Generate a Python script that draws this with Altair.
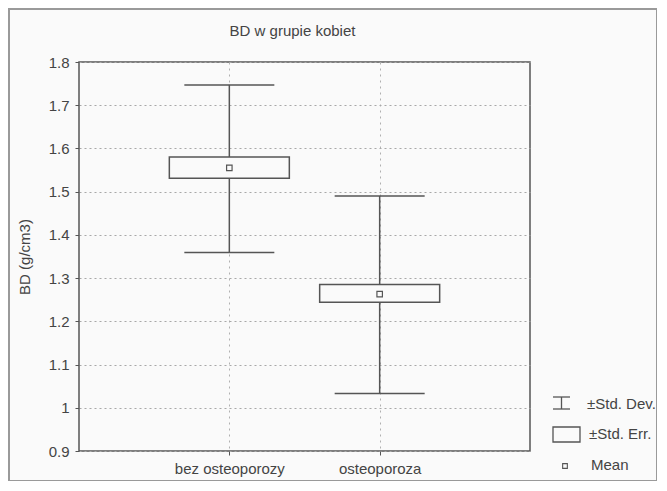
import altair as alt
import pandas as pd

# ---- data ----
groups = ["bez osteoporozy", "osteoporoza"]
means = [1.555, 1.263]
se_low = [1.531, 1.244]
se_high = [1.580, 1.285]
sd_low = [1.359, 1.033]
sd_high = [1.747, 1.490]
y_ticks = [0.9, 1.0, 1.1, 1.2, 1.3, 1.4, 1.5, 1.6, 1.7, 1.8]
legend_labels = ["±Std. Dev.", "±Std. Err.", "Mean"]
title_text = "BD w grupie kobiet"

df = pd.DataFrame({
    "group": groups, "mean": means,
    "se_low": se_low, "se_high": se_high,
    "sd_low": sd_low, "sd_high": sd_high,
})

FONT = "Liberation Sans"
TEXT = "#444444"
LINE = "#555555"
BG = "#fafafa"
W, H = 451, 389

x_enc = alt.X(
    "group:N",
    scale=alt.Scale(type="point", padding=1, domain=groups),
    axis=alt.Axis(title=None, labelAngle=0, grid=True, gridDash=[2, 4],
                  gridColor="#b0b0b0", tickSize=4, tickColor=LINE,
                  labelPadding=6, domain=False),
)
y_scale = alt.Scale(domain=[0.9, 1.8], nice=False, zero=False)
y_axis = alt.Axis(title="BD (g/cm3)", values=y_ticks, format=".1~f",
                  grid=True, gridDash=[2, 3], gridColor="#a8a8a8",
                  tickSize=4, tickColor=LINE, labelPadding=6, domain=False,
                  titleX=-55, titleY=H / 2, titleBaseline="middle",
                  titleAlign="center")

base = alt.Chart(df)

whisker = base.mark_rule(color=LINE, strokeWidth=1.5).encode(
    x=x_enc,
    y=alt.Y("sd_low:Q", scale=y_scale, axis=y_axis),
    y2="sd_high:Q",
)
cap_hi = base.mark_tick(size=90, thickness=1.5, color=LINE, opacity=1).encode(
    x=x_enc, y=alt.Y("sd_high:Q", scale=y_scale, axis=y_axis)
)
cap_lo = base.mark_tick(size=90, thickness=1.5, color=LINE, opacity=1).encode(
    x=x_enc, y=alt.Y("sd_low:Q", scale=y_scale, axis=y_axis)
)
box = base.mark_bar(size=120, fill=BG, stroke=LINE, strokeWidth=1.5).encode(
    x=x_enc,
    y=alt.Y("se_low:Q", scale=y_scale, axis=y_axis),
    y2="se_high:Q",
)
mean_pt = base.mark_point(shape="square", size=30, filled=False, color=LINE,
                          strokeWidth=1.2, opacity=1).encode(
    x=x_enc, y=alt.Y("mean:Q", scale=y_scale, axis=y_axis)
)

# ---- hand-drawn legend (bottom right) and title ----
one = pd.DataFrame({"k": [0]})


def ltext(label, px, py, align="left", size=15):
    return alt.Chart(pd.DataFrame({"label": [label]})).mark_text(
        align=align, baseline="middle", fontSize=size, font=FONT, color=TEXT
    ).encode(x=alt.value(px), y=alt.value(py), text="label:N")


lx0, lx1 = 474, 491
dev_top = alt.Chart(one).mark_rule(color=LINE, strokeWidth=1.3).encode(
    x=alt.value(lx0), x2=alt.value(lx1), y=alt.value(335))
dev_bot = alt.Chart(one).mark_rule(color=LINE, strokeWidth=1.3).encode(
    x=alt.value(lx0), x2=alt.value(lx1), y=alt.value(347))
dev_mid = alt.Chart(one).mark_rule(color=LINE, strokeWidth=1.3).encode(
    x=alt.value((lx0 + lx1) / 2), y=alt.value(335), y2=alt.value(347))
err_box = alt.Chart(one).mark_rect(fill=BG, stroke=LINE, strokeWidth=1.3).encode(
    x=alt.value(474), x2=alt.value(501), y=alt.value(365), y2=alt.value(380))
mean_icon = alt.Chart(one).mark_point(shape="square", size=22, filled=False,
                                      color=LINE, strokeWidth=1.1, opacity=1).encode(
    x=alt.value(486), y=alt.value(404))

frame = alt.Chart(one).mark_rect(fill=None, stroke="#9a9a9a", strokeWidth=2).encode(
    x=alt.value(-70), x2=alt.value(W + 127), y=alt.value(-53), y2=alt.value(H + 30))

chart = alt.layer(
    frame, whisker, cap_hi, cap_lo, box, mean_pt,
    dev_top, dev_bot, dev_mid, err_box, mean_icon,
    ltext(legend_labels[0], 508, 342),
    ltext(legend_labels[1], 510, 372),
    ltext(legend_labels[2], 512, 403),
    ltext(title_text, W / 2 - 12, -31, align="center"),
).properties(
    width=W, height=H,
    autosize=alt.AutoSizeParams(type="none"),
    padding={"left": 71, "top": 54, "right": 127, "bottom": 30},
).configure(
    background=BG,
).configure_view(
    stroke=LINE, strokeWidth=1.5, fill=BG
).configure_axis(
    labelFont=FONT, labelFontSize=15, labelColor=TEXT,
    titleFont=FONT, titleFontSize=15, titleColor=TEXT, titleFontWeight="normal",
)

chart.save("out.html", embed_options={"renderer": "svg", "actions": False})
